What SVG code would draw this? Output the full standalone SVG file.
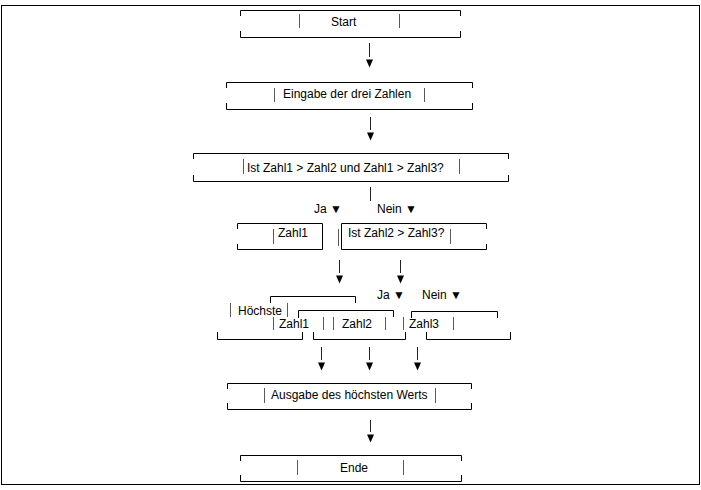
<svg xmlns="http://www.w3.org/2000/svg" width="701" height="490" viewBox="0 0 701 490">
<style>
text{font-family:"Liberation Sans",Arial,sans-serif;font-size:12px;fill:#000}
.box{fill:none;stroke:#000;stroke-width:1}
.bar{stroke:#5a5a5a;stroke-width:1}
.con{stroke:#222;stroke-width:1;fill:none}
</style>
<defs>
<marker id="tri" markerUnits="userSpaceOnUse" viewBox="0 0 8 11" markerWidth="8" markerHeight="11" refX="4" refY="0">
<path d="M0.5,2.5 L7.5,2.5 L4,10.5 Z" fill="#000"/>
</marker>
</defs>
<rect x="0" y="0" width="701" height="490" fill="#fff"/>
<rect x="1.5" y="5.5" width="698" height="479" fill="none" stroke="#000" stroke-width="1"/>

<g id="start">
<path class="box" d="M240.5,16 V10.5 H460.5 V16 M240.5,31 V37.5 H460.5 V31"/>
<line class="bar" x1="299.5" y1="14" x2="299.5" y2="28"/>
<line class="bar" x1="399.5" y1="14" x2="399.5" y2="28"/>
<text x="331" y="26">Start</text>
</g>

<g id="eingabe">
<path class="box" d="M226.5,88 V82.5 H472.5 V88 M226.5,103 V109.5 H472.5 V103"/>
<line class="bar" x1="274.5" y1="88" x2="274.5" y2="102"/>
<line class="bar" x1="424.5" y1="88" x2="424.5" y2="102"/>
<text x="283" y="98">Eingabe der drei Zahlen</text>
</g>

<g id="entscheidung1">
<path class="box" d="M193.5,159 V153.5 H508.5 V159 M193.5,175 V181.5 H508.5 V175"/>
<line class="bar" x1="243.5" y1="159" x2="243.5" y2="174"/>
<line class="bar" x1="459.5" y1="159" x2="459.5" y2="174"/>
<text x="247" y="172">Ist Zahl1 &gt; Zahl2 und Zahl1 &gt; Zahl3?</text>
</g>

<g id="label-ja1"><text x="314" y="213">Ja ▼</text></g>
<g id="label-nein1"><text x="377" y="213">Nein ▼</text></g>

<g id="zahl1-box">
<path class="box" d="M237.5,229 V223.5 H322.5 V249.5 H237.5 V244"/>
<line class="bar" x1="273.5" y1="229" x2="273.5" y2="244"/>
<text x="278" y="237">Zahl1</text>
</g>

<g id="entscheidung2">
<path class="box" d="M341.5,249.5 V223.5 H486.5 V229 M341.5,249.5 H486.5 V244"/>
<line class="bar" x1="338.5" y1="229" x2="338.5" y2="246"/>
<line class="bar" x1="450.5" y1="229" x2="450.5" y2="244"/>
<text x="348" y="237">Ist Zahl2 &gt; Zahl3?</text>
</g>

<g id="label-ja2"><text x="377" y="299">Ja ▼</text></g>
<g id="label-nein2"><text x="422" y="299">Nein ▼</text></g>

<g id="hoechste">
<path class="box" d="M270.5,303 V296.5 H355.5 V303"/>
<path class="box" d="M217.5,332 V339.5 H302.5 V332"/>
<line class="bar" x1="230.5" y1="303" x2="230.5" y2="317"/>
<line class="bar" x1="287.5" y1="303" x2="287.5" y2="317"/>
<line class="bar" x1="273.5" y1="317" x2="273.5" y2="330"/>
<text x="238" y="315">Höchste</text>
<text x="279" y="328">Zahl1</text>
</g>

<g id="zahl2-box">
<path class="box" d="M298.5,318 V310.5 H393.5 V317"/>
<path class="box" d="M313.5,332 V339.5 H405.5 V332"/>
<line class="bar" x1="323.5" y1="317" x2="323.5" y2="330"/>
<line class="bar" x1="333.5" y1="317" x2="333.5" y2="330"/>
<line class="bar" x1="385.5" y1="317" x2="385.5" y2="330"/>
<text x="342" y="328">Zahl2</text>
</g>

<g id="zahl3-box">
<path class="box" d="M411.5,318 V311.5 H497.5 V318"/>
<path class="box" d="M426.5,332 V339.5 H510.5 V332"/>
<line class="bar" x1="403.5" y1="317" x2="403.5" y2="330"/>
<line class="bar" x1="453.5" y1="317" x2="453.5" y2="330"/>
<text x="409" y="328">Zahl3</text>
</g>

<g id="ausgabe">
<path class="box" d="M227.5,389 V383.5 H471.5 V389 M227.5,403 V409.5 H471.5 V403"/>
<line class="bar" x1="264.5" y1="388" x2="264.5" y2="403"/>
<line class="bar" x1="435.5" y1="388" x2="435.5" y2="403"/>
<text x="271" y="399">Ausgabe des höchsten Werts</text>
</g>

<g id="ende">
<path class="box" d="M240.5,461 V455.5 H461.5 V461 M240.5,475 V481.5 H461.5 V475"/>
<line class="bar" x1="297.5" y1="460" x2="297.5" y2="475"/>
<line class="bar" x1="403.5" y1="460" x2="403.5" y2="475"/>
<text x="340" y="472">Ende</text>
</g>

<g id="connectors">
<line class="con" x1="369.5" y1="43" x2="369.5" y2="57" marker-end="url(#tri)"/>
<line class="con" x1="370.5" y1="117" x2="370.5" y2="130" marker-end="url(#tri)"/>
<line class="con" x1="370.5" y1="187" x2="370.5" y2="201"/>
<line class="con" x1="339.5" y1="260" x2="339.5" y2="273" marker-end="url(#tri)"/>
<line class="con" x1="400.5" y1="260" x2="400.5" y2="273" marker-end="url(#tri)"/>
<line class="con" x1="321.5" y1="347" x2="321.5" y2="360" marker-end="url(#tri)"/>
<line class="con" x1="369.5" y1="347" x2="369.5" y2="360" marker-end="url(#tri)"/>
<line class="con" x1="417.5" y1="347" x2="417.5" y2="360" marker-end="url(#tri)"/>
<line class="con" x1="370.5" y1="420" x2="370.5" y2="432" marker-end="url(#tri)"/>
</g>
</svg>
